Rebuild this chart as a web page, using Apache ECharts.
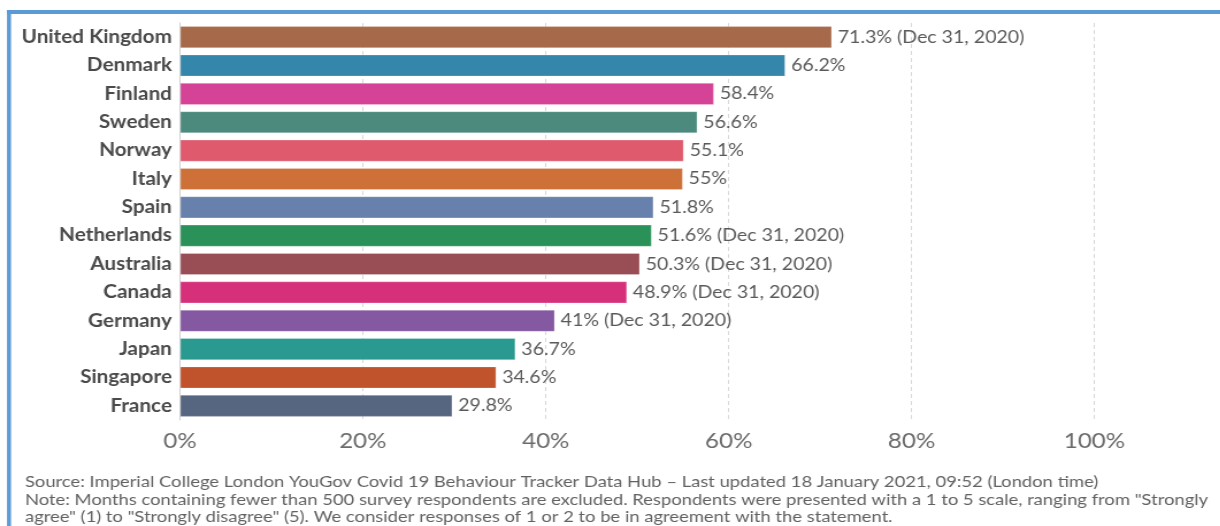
<!DOCTYPE html>
<html>
<head>
<meta charset="utf-8">
<script src="https://cdn.jsdelivr.net/npm/echarts@6/dist/echarts.min.js"></script>
<style>
html,body{margin:0;padding:0;background:#fff;overflow:hidden;}
#main{width:1061px;height:526px;transform:scaleX(1.15);transform-origin:0 0;}
</style>
</head>
<body>
<div id="main"></div>
<script>
const countries = ["United Kingdom","Denmark","Finland","Sweden","Norway","Italy","Spain","Netherlands","Australia","Canada","Germany","Japan","Singapore","France"];
const values = [71.3,66.2,58.4,56.6,55.1,55,51.8,51.6,50.3,48.9,41,36.7,34.6,29.8];
const dateNotes = ["Dec 31, 2020","","","","","","","Dec 31, 2020","Dec 31, 2020","Dec 31, 2020","Dec 31, 2020","","",""];
const barColors = ["#a6694a","#3487ab","#d54396","#4b8a7c","#df5a6c","#cd7138","#6880ac","#2a9159","#994e56","#d6307a","#8559a1","#2a9990","#c0532b","#566580"];
const tickValues = [0,20,40,60,80,100];
const footerLines = [
  "Source: Imperial College London YouGov Covid 19 Behaviour Tracker Data Hub \u2013 Last updated 18 January 2021, 09:52 (London time)",
  "Note: Months containing fewer than 500 survey respondents are excluded. Respondents were presented with a 1 to 5 scale, ranging from \"Strongly",
  "agree\" (1) to \"Strongly disagree\" (5). We consider responses of 1 or 2 to be in agreement with the statement."
];

const chart = echarts.init(document.getElementById('main'), null, {renderer:'canvas'});
const font = 'Lato, "Open Sans", sans-serif';

const option = {
  backgroundColor: '#ffffff',
  animation: false,
  grid: {left: 156.5, right: 109.3, top: 23, bottom: 106, containLabel: false},
  xAxis: {
    type: 'value',
    min: tickValues[0],
    max: tickValues[tickValues.length-1],
    interval: 20,
    axisLine: {show: false},
    axisTick: {show: false},
    axisLabel: {
      formatter: v => v + '%',
      fontFamily: font, fontSize: 21, color: '#6b6b6b', margin: 11
    },
    splitLine: {show: true, lineStyle: {color: '#d8d8d8', type: [4,3], width: 1}}
  },
  yAxis: {
    type: 'category',
    inverse: true,
    data: countries,
    axisLine: {show: true, lineStyle: {color: '#d0d0d0', width: 1}},
    axisTick: {show: false},
    axisLabel: {fontFamily: font, fontSize: 18, fontWeight: 'bold', color: '#4a4a4a', margin: 7}
  },
  series: [{
    type: 'bar',
    data: values.map((v,i) => ({value: v, itemStyle: {color: barColors[i], borderColor: 'rgba(255,255,255,0.25)', borderWidth: 1}})),
    barCategoryGap: '22%',
    label: {
      show: true,
      position: 'right',
      distance: 5,
      fontFamily: font,
      fontSize: 17,
      color: '#5a5a5a',
      formatter: p => p.value + '%' + (dateNotes[p.dataIndex] ? ' (' + dateNotes[p.dataIndex] + ')' : '')
    }
  }],
  graphic: [
    {type: 'rect', shape: {x: 6.1, y: 10, width: 1061, height: 4}, style: {fill: '#5b9bd5'}, z: 10},
    {type: 'rect', shape: {x: 6.1, y: 10, width: 3.5, height: 516}, style: {fill: '#5b9bd5'}, z: 10},
    ...footerLines.map((t, i) => ({
      type: 'text', left: 21.7, top: 474 + i * 17.5,
      style: {text: t, font: '16px ' + font, fill: '#626262'}
    }))
  ]
};
chart.setOption(option);
</script>
</body>
</html>
